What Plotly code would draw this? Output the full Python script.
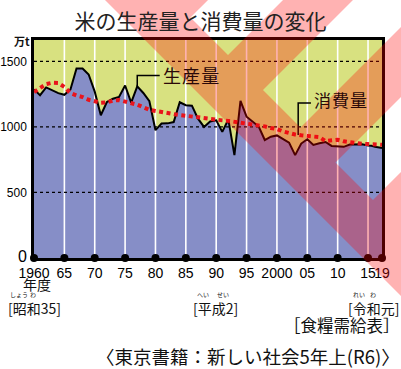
import plotly.graph_objects as go

# Rice production and domestic consumption, 10,000 t, fiscal years 1960-2019
years = list(range(1960, 2020))
production = [
    1286, 1242, 1301, 1281, 1258, 1245, 1285, 1445, 1445, 1400,
    1269, 1089, 1190, 1215, 1229, 1316, 1185, 1309, 1259, 1196,
    975, 1026, 1027, 1037, 1188, 1166, 1162, 1063, 1000, 1042,
    1050, 962, 1057, 785, 1198, 1078, 1038, 1003, 900, 925,
    935, 906, 880, 785, 873, 906, 862, 875, 885, 855,
    852, 848, 865, 866, 868, 858, 856, 848, 845, 839,
]
consumption = [
    1266, 1300, 1327, 1337, 1335, 1305, 1258, 1240, 1228, 1207,
    1195, 1185, 1187, 1200, 1205, 1195, 1182, 1169, 1150, 1131,
    1122, 1113, 1103, 1093, 1090, 1085, 1078, 1071, 1066, 1060,
    1055, 1050, 1046, 1040, 1032, 1024, 1018, 1010, 1004, 992,
    984, 966, 952, 942, 936, 930, 926, 922, 892, 896,
    902, 890, 882, 877, 872, 869, 868, 867, 866, 864,
]

tick_years = [1960, 1965, 1970, 1975, 1980, 1985, 1990, 1995, 2000, 2005, 2010, 2015, 2019]
tick_labels = ["1960", "65", "70", "75", "80", "85", "90", "95", "2000", "05", "10", "15", "19"]
y_ticks = [0, 500, 1000, 1500]
y_labels = ['<span style="font-size:16px">0</span>', "500", "1000", "1500"]

BLUE = "#868EC7"
YELLOW = "#D8E180"
RED = "#E8141C"
YMAX = 1663
JP = "Noto Sans CJK JP"
NUM = "Liberation Sans"

# figure geometry (pixels)
W, H = 401, 369
L, R, T, B = 34, 19, 40, 111
PW, PH = W - L - R, H - T - B


def xpos(year):
    # the years after 2015 sit on a condensed stretch at the right edge
    if year <= 2015:
        return year
    return 2015 + (year - 2015) * 0.575


def px(x):
    return (x - L) / PW


def py(y):
    return (H - B - y) / PH


xs = [xpos(y) for y in years]
tick_x = [xpos(t) for t in tick_years]
XMAX = xpos(2019)

fig = go.Figure()

# area under the production curve
fig.add_trace(go.Scatter(x=xs, y=production, mode="lines", line=dict(width=0),
                         fill="tozeroy", fillcolor=BLUE, hoverinfo="skip"))

# white vertical grid lines at every labelled year
gx, gy = [], []
for t in tick_x[1:-1]:
    gx += [t, t, None]
    gy += [0, YMAX, None]
fig.add_trace(go.Scatter(x=gx, y=gy, mode="lines", line=dict(color="white", width=1.6),
                         hoverinfo="skip"))

# dashed horizontal grid lines
hx, hy = [], []
for v in y_ticks[1:]:
    hx += [1960, XMAX, None]
    hy += [v, v, None]
fig.add_trace(go.Scatter(x=hx, y=hy, mode="lines",
                         line=dict(color="black", width=1.3, dash="3px,3px"), hoverinfo="skip"))

# production line
fig.add_trace(go.Scatter(x=xs, y=production, mode="lines",
                         line=dict(color="black", width=2), hoverinfo="skip"))

# consumption, red dotted
fig.add_trace(go.Scatter(x=xs, y=consumption, mode="lines",
                         line=dict(color=RED, width=4, dash="4px,3.5px"), hoverinfo="skip"))

# round tick markers on the year axis
fig.add_trace(go.Scatter(x=tick_x, y=[0] * len(tick_x), mode="markers",
                         marker=dict(size=8, color="black"), cliponaxis=False, hoverinfo="skip"))

shapes = []

# leader lines for the two series labels
p_year = 1977
p_val = production[years.index(p_year)]
shapes.append(dict(type="path", xref="x", yref="y", layer="above",
                   path=f"M {p_year},{p_val} L {p_year},1393 L 1980.7,1393",
                   line=dict(color="black", width=1.5)))
c_year = 2003.5
c_val = (consumption[years.index(2003)] + consumption[years.index(2004)]) / 2
shapes.append(dict(type="path", xref="x", yref="y", layer="above",
                   path=f"M {c_year},{c_val} L {c_year},1183 L 2005.6,1183",
                   line=dict(color="black", width=1.5)))


# translucent red diagonal bands laid over the whole graphic
def band(c0, c1, d0, d1):
    pts = []
    for c, d in [(c0, d0), (c1, d0), (c1, d1), (c0, d1)]:
        pts.append((px((c + d) / 2), py((d - c) / 2)))
    return "M " + " L ".join(f"{a:.4f},{b:.4f}" for a, b in pts) + " Z"


paths = [band(105, 173, -300, 1000)]
for d0, d1 in [(138, 208), (283, 353), (428, 498), (573, 643)]:
    paths.append(band(140, 900, d0, d1))
shapes.append(dict(type="path", xref="paper", yref="paper", layer="above",
                   path=" ".join(paths), fillcolor="rgba(255,0,0,0.3)",
                   fillrule="nonzero", line=dict(width=0)))

ann = []


def text(x, y, s, size, xanchor="center", font=JP, color="#111"):
    ann.append(dict(x=px(x), y=py(y), xref="paper", yref="paper", text=s, showarrow=False,
                    xanchor=xanchor, yanchor="middle", borderpad=0,
                    font=dict(family=font, size=size, color=color)))


# series labels
ann.append(dict(x=1980.9, y=1398, xref="x", yref="y", text="生\u200a産\u200a量", showarrow=False,
                xanchor="left", yanchor="middle", font=dict(family=JP, size=18, color="#2a0808")))
ann.append(dict(x=2005.8, y=1208, xref="x", yref="y", text="消\u200a費\u200a量", showarrow=False,
                xanchor="left", yanchor="middle", font=dict(family=JP, size=17, color="#2a0808")))

text(22, 40.5, "<b>万t</b>", 11, font=JP)
text(37, 284, "年度", 14)
text(7, 307.5, "[昭和35]", 14, xanchor="left")
text(19, 294.5, "しょう", 6)
text(33, 294.5, "わ", 6)
text(192, 307.5, "[平成2]", 14, xanchor="left")
text(203, 294.5, "へい", 6)
text(223, 294.5, "せい", 6)
text(400, 307.5, "[令和元]", 14, xanchor="right")
text(359, 294.5, "れい", 6)
text(373, 294.5, "わ", 6)
text(401, 325, "［食糧需給表］", 16.5, xanchor="right")
text(401, 356, "〈東京書籍：新しい社会5年上(R6)〉", 18.5, xanchor="right")

fig.update_layout(
    width=W, height=H,
    margin=dict(l=L, r=R, t=T, b=B, pad=0),
    paper_bgcolor="white", plot_bgcolor=YELLOW,
    showlegend=False,
    title=dict(text="米の生産量と消費量の変化", x=0.5, xanchor="center", y=1 - 22 / H,
               yanchor="middle", font=dict(family=JP, size=21, color="#222"), automargin=False),
    shapes=shapes, annotations=ann,
    xaxis=dict(range=[1960, XMAX], tickvals=tick_x, ticktext=tick_labels, tickangle=0,
               showgrid=False, zeroline=False, showline=True, linecolor="black",
               linewidth=2.5, mirror=True, ticks="", ticklabelstandoff=0, automargin=False,
               tickfont=dict(family=NUM, size=14, color="black")),
    yaxis=dict(range=[0, YMAX], tickvals=y_ticks, ticktext=y_labels,
               showgrid=False, zeroline=False, showline=True, linecolor="black",
               linewidth=2.5, mirror=True, ticks="", ticklabelstandoff=2, automargin=False,
               tickfont=dict(family=NUM, size=12, color="black")),
)

fig.write_html("out.html")
